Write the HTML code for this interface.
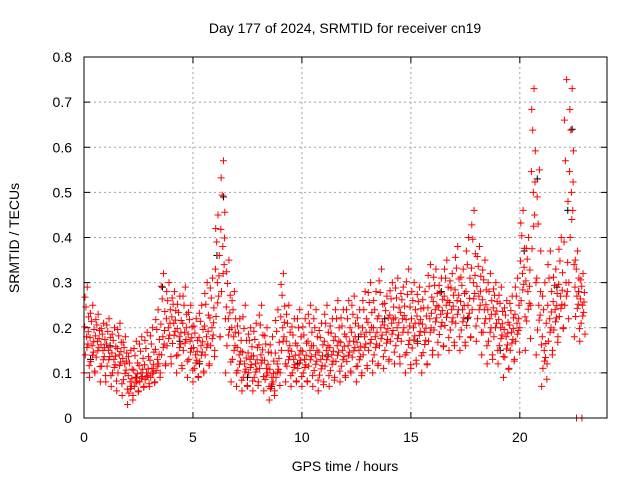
<!DOCTYPE html>
<html><head><meta charset="utf-8"><style>
body{margin:0;background:#fff}
svg text{font-family:"Liberation Sans",sans-serif;font-size:14px;fill:#000}
</style></head><body>
<svg id="chart" width="640" height="480" xmlns="http://www.w3.org/2000/svg">
<rect width="640" height="480" fill="#fff"/>
<g id="grid"></g>
<g id="ticks"></g>
<g id="marks"></g>
<rect x="84" y="57" width="523" height="361" fill="none" stroke="#000" stroke-width="1"/>
<text x="345" y="33" text-anchor="middle">Day 177 of 2024, SRMTID for receiver cn19</text>
<text x="345" y="471" text-anchor="middle">GPS time / hours</text>
<text transform="translate(19,238) rotate(-90)" text-anchor="middle">SRMTID / TECUs</text>
</svg>
<script>
const xTicks=[0,5,10,15,20];
const yTicks=[0,0.1,0.2,0.3,0.4,0.5,0.6,0.7,0.8];
const binStart=0, binStep=0.25;
const midVals=[.18,.16,.17,.15,.15,.13,.14,.12,.08,.09,.10,.10,.11,.13,.18,.20,.21,.18,.19,.17,.14,.16,.18,.20,.30,.38,.22,.18,.14,.12,.13,.12,.14,.11,.09,.12,.20,.15,.13,.14,.13,.15,.14,.13,.15,.14,.16,.15,.16,.17,.15,.18,.19,.18,.20,.19,.21,.20,.22,.19,.20,.21,.19,.22,.24,.23,.25,.24,.26,.24,.25,.30,.27,.24,.22,.23,.20,.18,.19,.21,.32,.28,.50,.25,.15,.22,.24,.27,.30,.50,.27,.25];
const loVals=[.10,.09,.10,.08,.08,.07,.06,.05,.03,.05,.06,.07,.07,.08,.10,.12,.12,.10,.11,.09,.08,.09,.10,.12,.15,.18,.10,.08,.07,.06,.07,.06,.08,.06,.04,.06,.10,.08,.07,.08,.07,.08,.07,.06,.08,.07,.09,.08,.09,.10,.08,.10,.11,.10,.12,.11,.13,.12,.12,.10,.11,.12,.10,.12,.15,.14,.16,.15,.16,.15,.16,.18,.17,.14,.12,.13,.12,.09,.11,.13,.20,.15,.25,.14,.07,.12,.15,.18,.20,.30,.18,.17];
const hiVals=[.29,.25,.23,.21,.22,.20,.21,.18,.15,.17,.18,.19,.20,.24,.32,.30,.28,.27,.29,.25,.22,.25,.30,.31,.45,.57,.35,.28,.22,.25,.20,.21,.25,.20,.18,.24,.32,.25,.22,.24,.22,.25,.24,.21,.25,.22,.26,.24,.26,.27,.24,.28,.30,.28,.33,.27,.30,.31,.29,.33,.30,.29,.28,.34,.33,.31,.35,.32,.38,.33,.40,.46,.38,.35,.32,.30,.29,.26,.27,.31,.46,.40,.73,.55,.30,.37,.33,.40,.75,.73,.37,.32];
const blackT=[0.3,1.2,2.4,3.6,4.4,5.3,6.1,6.4,7.5,8.6,9.8,11.2,12.6,13.8,15.3,16.4,17.6,19.1,20.2,20.8,21.7,22.2,22.4,22.7];
const blackV=[0.13,0.16,0.09,0.29,0.17,0.12,0.36,0.49,0.09,0.07,0.12,0.14,0.18,0.22,0.17,0.28,0.22,0.15,0.37,0.53,0.29,0.46,0.64,0.28];
const zeroT=[22.6,22.85];
const zeroV=[0,0];
const X0=84,X1=607,XMAX=24,Y0=418,Y1=57,YMAX=0.8;
const xs=t=>X0+t/XMAX*(X1-X0);
const ys=v=>Y0-v/YMAX*(Y0-Y1);
const NS="http://www.w3.org/2000/svg";
const grid=document.getElementById('grid'),ticks=document.getElementById('ticks'),marks=document.getElementById('marks');
function mk(tag,attrs,parent){const e=document.createElementNS(NS,tag);for(const k in attrs)e.setAttribute(k,attrs[k]);parent.appendChild(e);return e;}
xTicks.forEach(t=>{
  const x=xs(t);
  if(t>0){const g=mk('line',{x1:x,x2:x,y1:Y1,y2:Y0,stroke:'#a0a0a0','stroke-dasharray':'2,3'},grid);
  
  }
  mk('line',{x1:x,x2:x,y1:Y0,y2:Y0-6,stroke:'#000'},ticks);
  mk('line',{x1:x,x2:x,y1:Y1,y2:Y1+6,stroke:'#000'},ticks);
  const l=mk('text',{x:x,y:Y0+24,'text-anchor':'middle'},ticks);l.textContent=t;
  
  
});
yTicks.forEach(v=>{
  const y=ys(v);
  if(v>0&&v<YMAX){const g=mk('line',{x1:X0,x2:X1,y1:y,y2:y,stroke:'#a0a0a0','stroke-dasharray':'2,3'},grid);
  
  }
  mk('line',{x1:X0,x2:X0+6,y1:y,y2:y,stroke:'#000'},ticks);
  mk('line',{x1:X1,x2:X1-6,y1:y,y2:y,stroke:'#000'},ticks);
  const l=mk('text',{x:X0-12,y:y+5,'text-anchor':'end'},ticks);l.textContent=v===0?'0':v.toFixed(1);
  
  
});
function plus(t,v,color,name){
  const x=xs(t),y=ys(v);
  const p=mk('path',{d:`M${x-3.5},${y}H${x+3.5}M${x},${y-3.5}V${y+3.5}`,stroke:color,'stroke-width':1,fill:'none'},marks);
  
  
}
blackT.forEach((t,i)=>plus(t,blackV[i],'#000','black-point'));
// marker layout within a bin: x offsets (hours) and position within lo..mid..hi envelope (-1=lo,0=mid,1=hi)
const offs=[0,0.03,0.06,0.09,0.12,0.15,0.18,0.21,0.24,0.045,0.135,0.195];
const pos=[-1,0.2,-0.5,0.6,0,1,-0.2,0.4,-0.8,0.8,-0.3,0.1];
midVals.forEach((m,i)=>{
  const t=binStart+i*binStep;
  offs.forEach((o,k)=>{
    const f=pos[k];
    const v=f<0?m+f*(m-loVals[i]):m+f*(hiVals[i]-m);
    plus(t+o,v,'#f00','red-point');
  });
});
zeroT.forEach((t,i)=>plus(t,zeroV[i],'#f00','zero-point'));
</script>
</body></html>
